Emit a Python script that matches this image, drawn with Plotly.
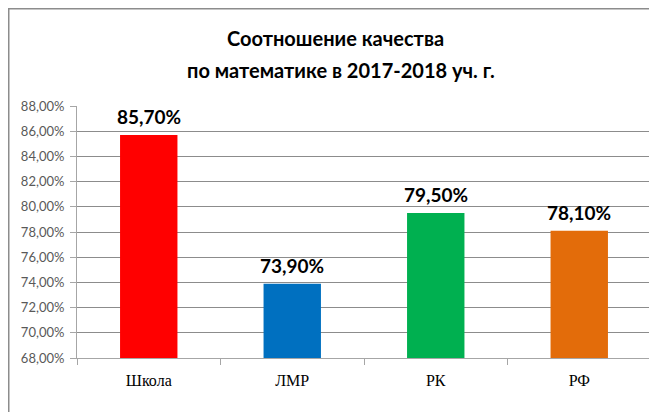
import plotly.graph_objects as go

categories = ["Школа", "ЛМР", "РК", "РФ"]
values = [0.857, 0.739, 0.795, 0.781]
value_labels = ["85,70%", "73,90%", "79,50%", "78,10%"]
colors = ["#FF0000", "#0070C0", "#00B050", "#E36C0A"]
y_tickvals = [0.68, 0.70, 0.72, 0.74, 0.76, 0.78, 0.80, 0.82, 0.84, 0.86, 0.88]
y_ticktext = ["68,00%", "70,00%", "72,00%", "74,00%", "76,00%", "78,00%",
              "80,00%", "82,00%", "84,00%", "86,00%", "88,00%"]
title_lines = ["Соотношение качества", "по математике в 2017-2018 уч. г."]

# page body has an 8px default margin; figure fills the rest of the window
OFF = 8
W, H = 657 - OFF, 412 - OFF
L, R, T, B = 77 - OFF, 6, 106 - OFF, 54
pw, ph = W - L - R, H - T - B


def px_x(p):
    return (p - OFF - L) / pw


def px_y(p):
    return (H - B - (p - OFF)) / ph


fig = go.Figure(go.Bar(
    x=categories, y=values, marker=dict(color=colors, line=dict(width=0)),
))

annotations = [
    dict(text=title_lines[0], xref="paper", yref="paper", x=px_x(335), y=px_y(38),
         xanchor="center", yanchor="middle", showarrow=False,
         font=dict(family="Lato", size=20, color="#000000", weight="bold")),
    dict(text=title_lines[1], xref="paper", yref="paper", x=px_x(341), y=px_y(70),
         xanchor="center", yanchor="middle", showarrow=False,
         font=dict(family="Lato", size=20, color="#000000", weight="bold")),
]
for c, v, t in zip(categories, values, value_labels):
    annotations.append(dict(text=t, x=c, y=v, xref="x", yref="y",
                            xanchor="center", yanchor="bottom", yshift=5,
                            showarrow=False,
                            font=dict(family="Lato", size=19, color="#000000",
                                      weight="bold")))

fig.update_layout(
    width=W, height=H,
    margin=dict(l=L, r=R, t=T, b=B, autoexpand=False),
    paper_bgcolor="white", plot_bgcolor="white",
    bargap=0.6, showlegend=False,
    annotations=annotations,
    xaxis=dict(tickson="boundaries", ticks="outside", ticklen=6, tickcolor="#A6A6A6",
               showline=True, linecolor="#A6A6A6", linewidth=1, showgrid=False,
               automargin=False, ticklabelstandoff=8,
               tickfont=dict(family="Liberation Serif", size=16, color="#000000")),
    yaxis=dict(range=[0.68, 0.88], tickvals=y_tickvals, ticktext=y_ticktext,
               ticks="outside", ticklen=6, tickcolor="#A6A6A6",
               showline=True, linecolor="#A6A6A6", linewidth=1, automargin=False,
               ticklabelstandoff=3,
               showgrid=True, gridcolor="#8C8C8C", gridwidth=1, zeroline=False,
               tickfont=dict(family="Lato", size=13, color="#595959")),
    shapes=[dict(type="rect", xref="paper", yref="paper",
                 x0=(0.75 - L) / pw, x1=(W + 20 - L) / pw,
                 y0=(H - B - (H + 20)) / ph, y1=(H - B - 0.75) / ph,
                 line=dict(color="#8C8C8C", width=1.5), fillcolor="rgba(0,0,0,0)",
                 layer="below")],
)

fig.write_html("out.html")
